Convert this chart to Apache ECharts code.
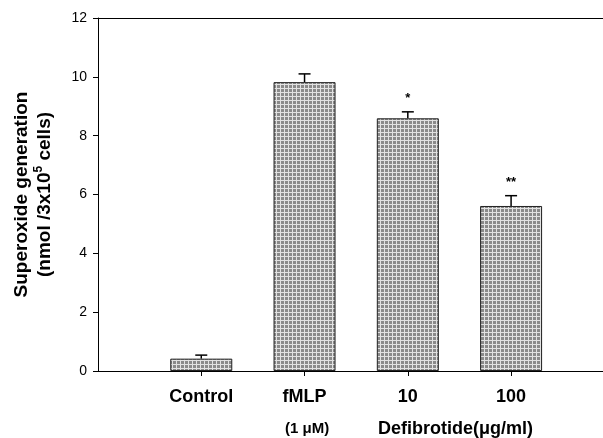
<!DOCTYPE html>
<html><head><meta charset="utf-8">
<script src="https://cdn.jsdelivr.net/npm/echarts@6/dist/echarts.min.js"></script>
<style>html,body{margin:0;padding:0;background:#fff}#c{width:603px;height:438px}</style>
</head><body><div id="c"></div>
<script>
const categories = ['Control', 'fMLP', '10', '100'];
const values = [0.42, 9.82, 8.59, 5.61];
const errors = [0.12, 0.28, 0.22, 0.35];
const stars = ['', '', '*', '**'];
const yTicks = [0, 2, 4, 6, 8, 10, 12];

const pc = document.createElement('canvas');
pc.width = 4; pc.height = 4;
const g = pc.getContext('2d');
g.fillStyle = '#8a8a8a'; g.fillRect(0,0,4,4);
g.fillStyle = '#e2e2e2'; g.fillRect(0,0,4,1); g.fillRect(0,0,1,4);

const chart = echarts.init(document.getElementById('c'));
const font = 'Liberation Sans, Arial, sans-serif';
const barData = values.map((v,i)=>[i+1, v]);
chart.setOption({
  animation:false,
  grid:{left:98, top:18, right:0, bottom:67},
  xAxis:[{type:'value', min:0, max:4.89, interval:1,
    axisLine:{lineStyle:{color:'#000', width:1}},
    axisTick:{show:true, length:5, lineStyle:{color:'#000'}, customValues:[1,2,3,4]},
    axisLabel:{show:true, customValues:[1,2,3,4], formatter:v=>categories[v-1], color:'#000', fontFamily:font, fontWeight:'bold', fontSize:18, margin:17},
    splitLine:{show:false}},
    {type:'value', position:'top', min:0, max:4.89, axisLine:{show:true, lineStyle:{color:'#000'}}, axisTick:{show:false}, axisLabel:{show:false}, splitLine:{show:false}}],
  yAxis:{type:'value', min:0, max:12, interval:2,
    axisLine:{show:true, lineStyle:{color:'#000'}},
    axisTick:{show:true, length:5, lineStyle:{color:'#000'}},
    axisLabel:{color:'#000', fontFamily:font, fontSize:14, margin:11, formatter:v=>yTicks.includes(v)?String(v):''},
    splitLine:{show:false},
    name:'{a|Superoxide generation}\n{a|(nmol /3x10}{s|5}{a| cells)}', nameLocation:'middle', nameGap:42, nameRotate:90,
    nameTextStyle:{color:'#000', fontFamily:font, fontWeight:'bold', fontSize:19, lineHeight:23,
      rich:{a:{fontFamily:font, fontWeight:'bold', fontSize:19, color:'#000', lineHeight:23},
            s:{fontFamily:font, fontWeight:'bold', fontSize:12, color:'#000', verticalAlign:'top', lineHeight:23}}}},
  series:[
    {type:'bar', data:barData, barWidth:62, itemStyle:{color:{image:pc, repeat:'repeat'}, borderColor:'#222', borderWidth:1}},
    {type:'custom', data:values.map((v,i)=>[i+1, v, v+errors[i]]),
      renderItem:(p,api)=>{
        const b = api.coord([api.value(0), api.value(1)]);
        const t = api.coord([api.value(0), api.value(2)]);
        const idx = p.dataIndex;
        const ch = [
          {type:'line', shape:{x1:b[0],y1:b[1],x2:t[0],y2:t[1]}, style:{stroke:'#000', lineWidth:1.5}},
          {type:'line', shape:{x1:t[0]-6,y1:t[1],x2:t[0]+6,y2:t[1]}, style:{stroke:'#000', lineWidth:1.5}}
        ];
        if (stars[idx]) ch.push({type:'text', x:t[0], y:t[1]-13, style:{text:stars[idx], fill:'#000', font:'bold 13px '+font, align:'center', verticalAlign:'middle'}});
        return {type:'group', children:ch};
      }, z:5}
  ],
  graphic:[
    {type:'text', left:285, top:421, style:{text:'(1 μM)', fill:'#000', font:'bold 15px '+font}},
    {type:'text', left:378, top:420, style:{text:'Defibrotide(μg/ml)', fill:'#000', font:'bold 18px '+font}}
  ]
});
</script></body></html>
